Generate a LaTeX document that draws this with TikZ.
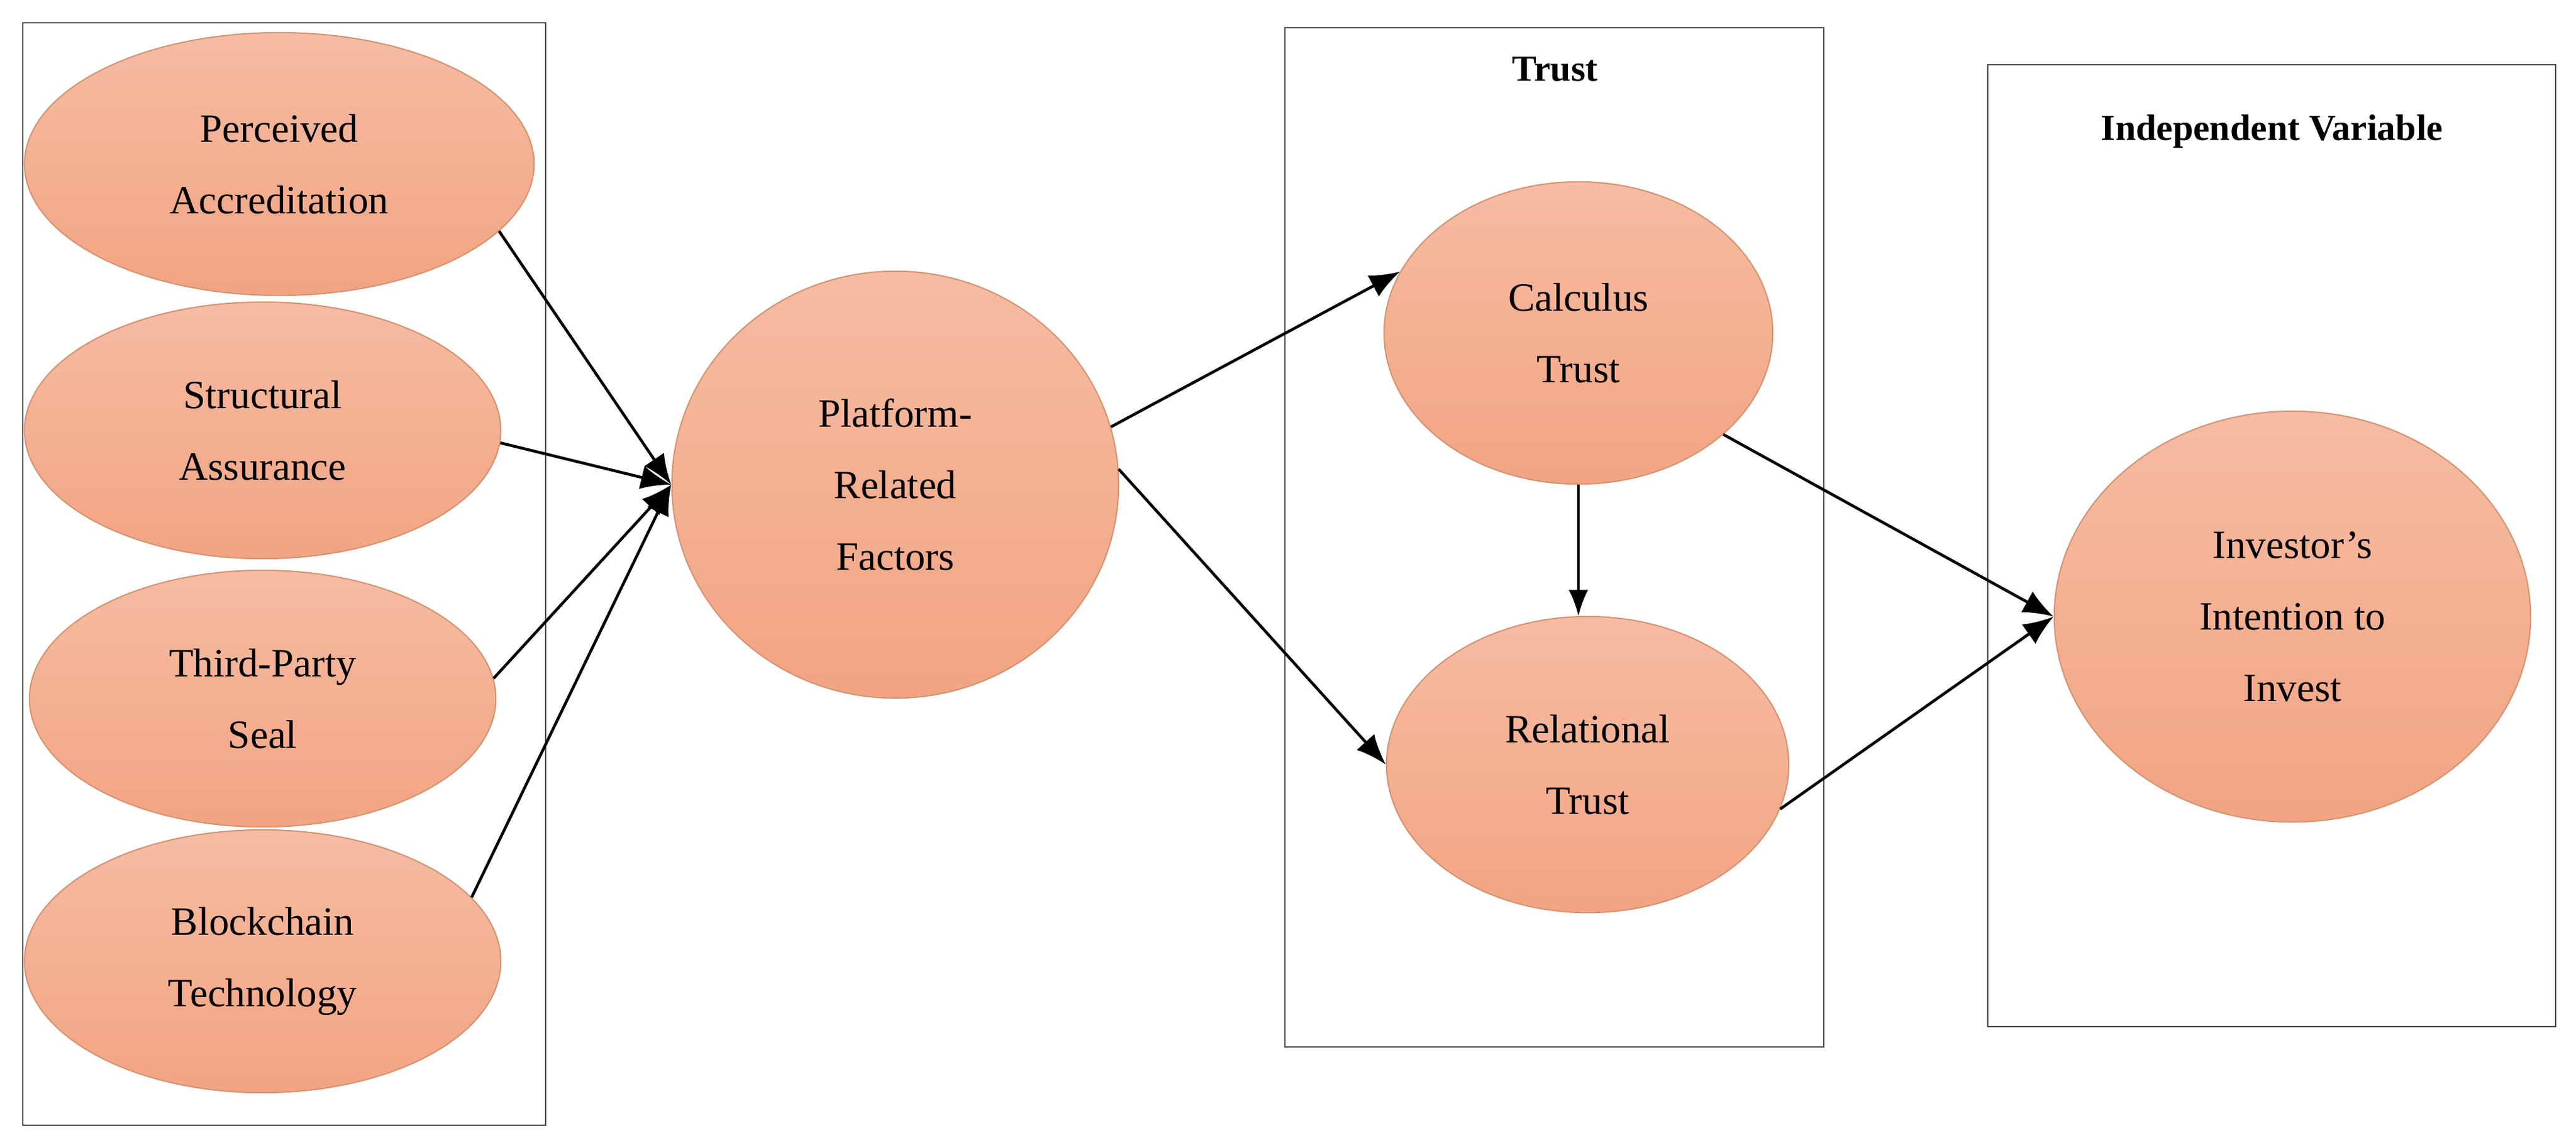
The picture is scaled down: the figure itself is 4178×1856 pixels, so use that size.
\documentclass[tikz,border=0pt]{standalone}
\usepackage{fontspec}
\setmainfont{Liberation Serif}
\usetikzlibrary{shapes.geometric,arrows.meta}
\definecolor{salL}{HTML}{F6BCA3}
\definecolor{salD}{HTML}{F2A482}
\definecolor{edg}{HTML}{D49473}
\begin{document}
\begin{tikzpicture}[x=0.01cm,y=-0.01cm,
  el/.style={ellipse,draw=edg,line width=0.6pt,top color=salL,bottom color=salD,align=center,inner sep=0pt,font=\fontsize{18.5}{33}\selectfont},
  box/.style={draw=black!70,line width=0.8pt},
  arr/.style={-{Latex[length=14pt,width=11pt]},line width=1.3pt},
  hdr/.style={font=\bfseries\fontsize{17}{20}\selectfont}]
\useasboundingbox (0,0) rectangle (4178,1856);
\draw[box] (37,37) rectangle (885,1825);
\draw[box] (2084,45) rectangle (2958,1698);
\draw[box] (3224,105) rectangle (4145,1665);
\node[hdr] (th) at (2522,112) {Trust};
\node[hdr] (ih) at (3685,213) {Independent Variable};
\node[el,minimum width=8.26cm,minimum height=4.26cm] (pa) at (453,266) {Perceived\\Accreditation};
\node[el,minimum width=7.72cm,minimum height=4.16cm] (sa) at (426,698) {Structural\\Assurance};
\node[el,minimum width=7.56cm,minimum height=4.16cm] (tp) at (426,1133) {Third-Party\\Seal};
\node[el,minimum width=7.72cm,minimum height=4.26cm] (bt) at (426,1559) {Blockchain\\Technology};
\node[el,minimum width=7.24cm,minimum height=6.92cm] (pf) at (1452,786) {Platform-\\Related\\Factors};
\node[el,minimum width=6.3cm,minimum height=4.9cm] (ct) at (2560,540) {Calculus\\Trust};
\node[el,minimum width=6.52cm,minimum height=4.8cm] (rt) at (2575,1240) {Relational\\Trust};
\node[el,minimum width=7.72cm,minimum height=6.66cm] (it) at (3718,1000) {Investor’s\\Intention to\\Invest};
\draw[arr] (pa.-17) -- (pf.180);
\draw[arr] (sa.-3) -- (pf.180);
\draw[arr] (tp.5) -- (pf.180);
\draw[arr] (bt.17) -- (pf.180);
\draw[arr] (pf.15) -- (ct.161);
\draw[arr] (pf.4) -- (rt.180);
\draw[-{Latex[length=12pt,width=9pt]},line width=0.9pt] (ct.south) -- (ct.south |- rt.north);
\draw[arr] (ct.-35) -- (it.180);
\draw[arr] (rt.-13) -- (it.180);
\end{tikzpicture}
\end{document}
